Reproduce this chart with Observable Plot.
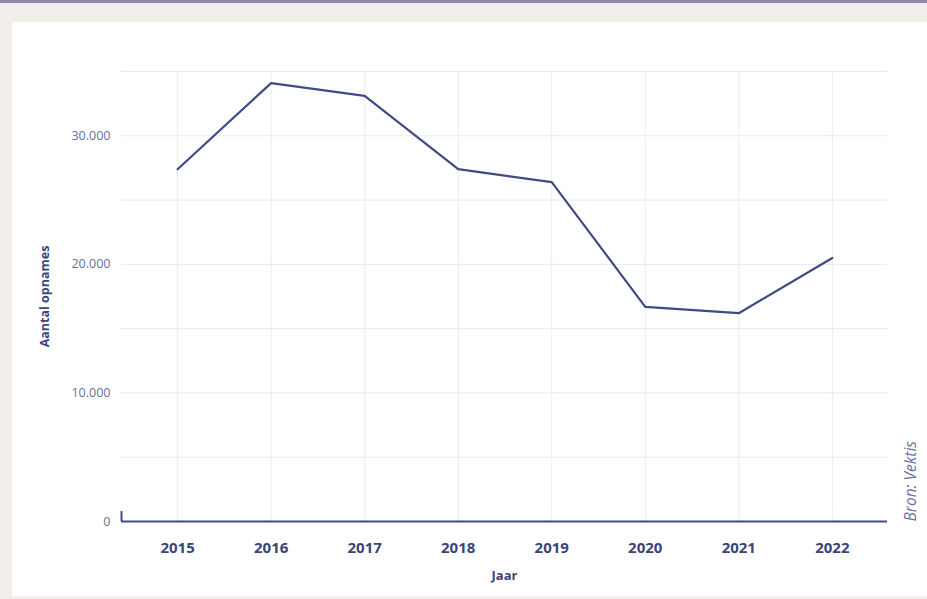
<!DOCTYPE html>
<html>
<head>
<meta charset="utf-8">
<script src="https://cdn.jsdelivr.net/npm/d3@7"></script>
<script src="https://cdn.jsdelivr.net/npm/@observablehq/plot@0.6"></script>
<style>
  html, body { margin: 0; padding: 0; }
  body { width: 927px; height: 599px; background: #f1eeea; position: relative; overflow: hidden; font-family: "Open Sans", sans-serif; }
  #topbar { position: absolute; left: 0; top: 0; width: 927px; height: 3px; background: #8a86ac; }
  #panel { position: absolute; left: 12px; top: 22px; width: 915px; height: 574px; background: #ffffff; }
  #chart { position: absolute; left: 0; top: 0; }
</style>
</head>
<body>
<div id="topbar"></div>
<div id="panel"></div>
<div id="chart"></div>
<script>
const years = [2015, 2016, 2017, 2018, 2019, 2020, 2021, 2022];
const opnames = [27400, 34100, 33100, 27400, 26400, 16700, 16200, 20500];
const yTicks = [0, 10000, 20000, 30000];
const yGrid = [5000, 10000, 15000, 20000, 25000, 30000, 35000];

const data = years.map((y, i) => ({jaar: y, aantal: opnames[i]}));
const nl = d3.formatLocale({decimal: ",", thousands: ".", grouping: [3], currency: ["€", ""]});
const fmt = nl.format(",d");

const navy = "#3f4a86";
const xDomain = [2014.4, 2022.59];

const chart = Plot.plot({
  width: 927,
  height: 599,
  marginLeft: 121,
  marginRight: 40,
  marginTop: 71,
  marginBottom: 78,
  style: {background: "transparent", fontFamily: "Open Sans, sans-serif"},
  x: {domain: xDomain},
  y: {domain: [0, 35000]},
  marks: [
    Plot.gridY(yGrid, {stroke: "#e9e9ee", strokeOpacity: 1, x1: xDomain[0], x2: xDomain[1]}),
    Plot.gridX(years, {stroke: "#ececf0", strokeOpacity: 1}),
    Plot.axisY(yTicks, {tickSize: 0, tickPadding: 11, tickFormat: fmt, fontSize: 12.5, fill: "#6570a6", label: null}),
    Plot.axisX(years, {tickSize: 0, tickPadding: 21, tickFormat: d3.format("d"), fontSize: 15, fontWeight: "bold", fill: "#3a4478", label: null}),
    Plot.ruleY([0], {stroke: navy, strokeWidth: 2}),
    Plot.ruleX([xDomain[0]], {y1: 0, y2: 780, stroke: navy, strokeWidth: 2}),
    Plot.line(data, {x: "jaar", y: "aantal", stroke: navy, strokeWidth: 2.2}),
    Plot.text(["Jaar"], {frameAnchor: "bottom", dy: 58, fontSize: 13, fontWeight: "bold", fill: "#3a4478"}),
    Plot.text(["Aantal opnames"], {frameAnchor: "left", dx: -77, rotate: -90, textAnchor: "middle", fontSize: 12.5, fontWeight: "bold", fill: "#3a4478"}),
    Plot.text(["Bron: Vektis"], {frameAnchor: "bottom-right", dx: 28, rotate: -90, textAnchor: "start", fontSize: 15.5, fontStyle: "italic", fill: "#6a70a2"})
  ]
});
document.getElementById("chart").appendChild(chart);
</script>
</body>
</html>
